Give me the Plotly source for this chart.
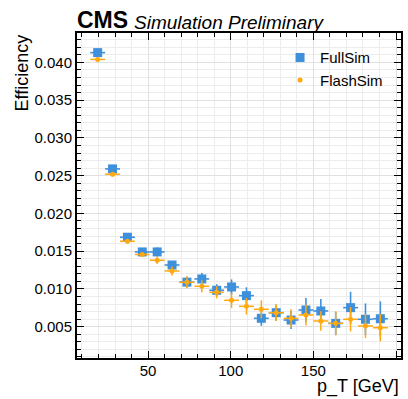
import plotly.graph_objects as go

# Data
pt = [19.5, 28.5, 37.5, 46.5, 55.5, 64.5, 73.5, 82.5, 91.5, 100.5,
      109.5, 118.5, 127.5, 136.5, 145.5, 154.5, 163.5, 172.5, 181.5, 190.5]
pt_halfwidth = [4.5] * 20
full_eff = [0.0413, 0.0259, 0.01685, 0.0149, 0.0149, 0.01317, 0.0109, 0.01132, 0.00982, 0.01026,
            0.00911, 0.00611, 0.00685, 0.00588, 0.00721, 0.00708, 0.00544, 0.00752, 0.00598, 0.00605]
full_err = [0.0002, 0.0003, 0.0003, 0.0004, 0.0006, 0.0005, 0.0007, 0.0008, 0.0008, 0.0010,
            0.0011, 0.0010, 0.0011, 0.0012, 0.0016, 0.0016, 0.0015, 0.0021, 0.0021, 0.0023]
flash_eff = [0.0404, 0.0252, 0.01632, 0.01456, 0.0138, 0.01238, 0.01088, 0.01035, 0.00955, 0.00849,
             0.0077, 0.0073, 0.00685, 0.0061, 0.00655, 0.00575, 0.00544, 0.00598, 0.00509, 0.00486]
flash_err = [0.0002, 0.0003, 0.0003, 0.0003, 0.0005, 0.0006, 0.0008, 0.0008, 0.0008, 0.0010,
             0.0011, 0.0012, 0.0011, 0.0012, 0.0014, 0.0013, 0.0016, 0.0016, 0.0016, 0.0018]

BLUE = "#3f90da"
ORANGE = "#ffa90e"
FONT = "Liberation Sans, Arial, Helvetica, sans-serif"

fig = go.Figure()
fig.add_trace(go.Scatter(
    x=pt, y=full_eff, mode="markers", name="FullSim",
    marker=dict(symbol="square", size=9, color=BLUE),
    error_x=dict(type="data", array=pt_halfwidth, color=BLUE, thickness=1.6, width=0),
    error_y=dict(type="data", array=full_err, color=BLUE, thickness=1.6, width=0),
))
fig.add_trace(go.Scatter(
    x=pt, y=flash_eff, mode="markers", name="FlashSim",
    marker=dict(symbol="circle", size=5, color=ORANGE),
    error_x=dict(type="data", array=pt_halfwidth, color=ORANGE, thickness=1.5, width=0),
    error_y=dict(type="data", array=flash_err, color=ORANGE, thickness=1.5, width=0),
))

axis_common = dict(
    showline=True, linecolor="black", linewidth=2, mirror="allticks",
    ticks="inside", ticklen=7, tickwidth=1, tickcolor="black",
    showgrid=True, gridcolor="#e0e0e0", gridwidth=0.8,
    zeroline=False,
    tickfont=dict(family=FONT, size=15, color="black"),
)

fig.update_xaxes(
    range=[7, 203], tick0=0, dtick=50, ticklabelstandoff=-2,
    minor=dict(dtick=10, ticks="inside", ticklen=4, tickcolor="black",
               showgrid=True, gridcolor="#ececec", gridwidth=0.8),
    **axis_common,
)
fig.update_yaxes(
    range=[0.00085, 0.0439], tick0=0, dtick=0.005, tickformat=".3f",
    minor=dict(dtick=0.001, ticks="inside", ticklen=4, tickcolor="black",
               showgrid=True, gridcolor="#ececec", gridwidth=0.8),
    **axis_common,
)

fig.update_layout(
    width=408, height=399,
    margin=dict(l=77, r=5, t=33, b=41),
    paper_bgcolor="white", plot_bgcolor="white",
    font=dict(family=FONT, color="black"),
    legend=dict(x=0.96, y=0.975, xanchor="right", yanchor="top",
                bgcolor="rgba(0,0,0,0)", font=dict(size=15, family=FONT),
                itemsizing="trace", tracegroupgap=4),
    annotations=[
        dict(text="<b>CMS</b>", x=0, y=1, xref="paper", yref="paper",
             xanchor="left", yanchor="bottom", showarrow=False,
             font=dict(size=23, family=FONT, color="black"), xshift=-2, yshift=-2),
        dict(text="<i>Simulation Preliminary</i>", x=0.17, y=1, xref="paper", yref="paper",
             xanchor="left", yanchor="bottom", showarrow=False,
             font=dict(size=19, family=FONT, color="black"), yshift=-2),
        dict(text="p_T [GeV]", x=1, y=0, xref="paper", yref="paper",
             xanchor="right", yanchor="top", showarrow=False,
             font=dict(size=18, family=FONT, color="black"), yshift=-16),
        dict(text="Efficiency", x=0, y=1, xref="paper", yref="paper",
             xanchor="right", yanchor="top", showarrow=False, textangle=-90,
             font=dict(size=18, family=FONT, color="black"), xshift=-44),
    ],
)

fig.write_html("out.html")
